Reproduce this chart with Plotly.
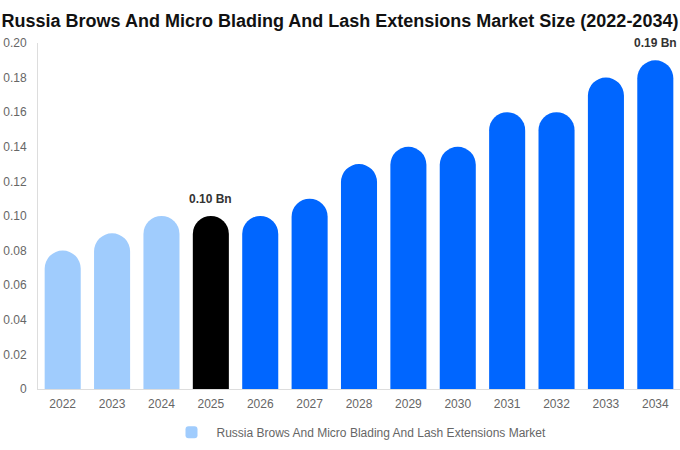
import plotly.graph_objects as go

# Data
years = ["2022", "2023", "2024", "2025", "2026", "2027", "2028",
         "2029", "2030", "2031", "2032", "2033", "2034"]
market_size = [0.08, 0.09, 0.10, 0.10, 0.10, 0.11, 0.13,
               0.14, 0.14, 0.16, 0.16, 0.18, 0.19]
bar_colors = ["#a0ccfd"] * 3 + ["#000000"] + ["#0066ff"] * 9
ytick_vals = [0, 0.02, 0.04, 0.06, 0.08, 0.10, 0.12, 0.14, 0.16, 0.18, 0.20]
ytick_text = ["0", "0.02", "0.04", "0.06", "0.08", "0.10", "0.12",
              "0.14", "0.16", "0.18", "0.20"]
labelled = {"2025": "0.10 Bn", "2034": "0.19 Bn"}

fig = go.Figure()

fig.add_trace(go.Bar(
    x=years, y=market_size,
    marker=dict(color=bar_colors, cornerradius=18, line_width=0),
    name="Russia Brows And Micro Blading And Lash Extensions Market",
    showlegend=True,
))

# value labels above the highlighted bars (category axis -> position by index)
for yr, txt in labelled.items():
    i = years.index(yr)
    fig.add_annotation(x=i, y=market_size[i], text="<b>" + txt + "</b>",
                       showarrow=False, yshift=17,
                       font=dict(family="Liberation Sans, Arial, sans-serif",
                                 size=12, color="#333333"))

fig.update_layout(
    width=680, height=450,
    paper_bgcolor="white", plot_bgcolor="white",
    font=dict(family="Liberation Sans, Arial, sans-serif", color="#666666", size=12),
    title=dict(text="<b>Russia Brows And Micro Blading And Lash Extensions Market Size (2022-2034)</b>",
               x=0.5, xanchor="center", y=0.955, yanchor="middle",
               font=dict(family="Liberation Sans, Arial, sans-serif", size=18, color="#111111")),
    margin=dict(l=38, r=0, t=43, b=61),
    bargap=0.27,
    legend=dict(orientation="h", x=0.5, xanchor="center", y=-0.125, yanchor="middle",
                itemwidth=40, font=dict(size=12, color="#666666")),
)

fig.update_xaxes(type="category", range=[-0.5, len(years) - 0.5],
                 showline=True, linecolor="#dddddd", linewidth=1,
                 ticks="", showgrid=False, ticklabelstandoff=4)
fig.update_yaxes(range=[0, 0.2], tickvals=ytick_vals, ticktext=ytick_text,
                 showline=True, linecolor="#dddddd", linewidth=1,
                 showgrid=False, zeroline=False, ticks="", ticklabelstandoff=8)

# drop the default page margin so the figure sits at the window corner
fig.write_html("out.html", config={"displayModeBar": False},
               post_script="document.body.style.margin='0px';")
